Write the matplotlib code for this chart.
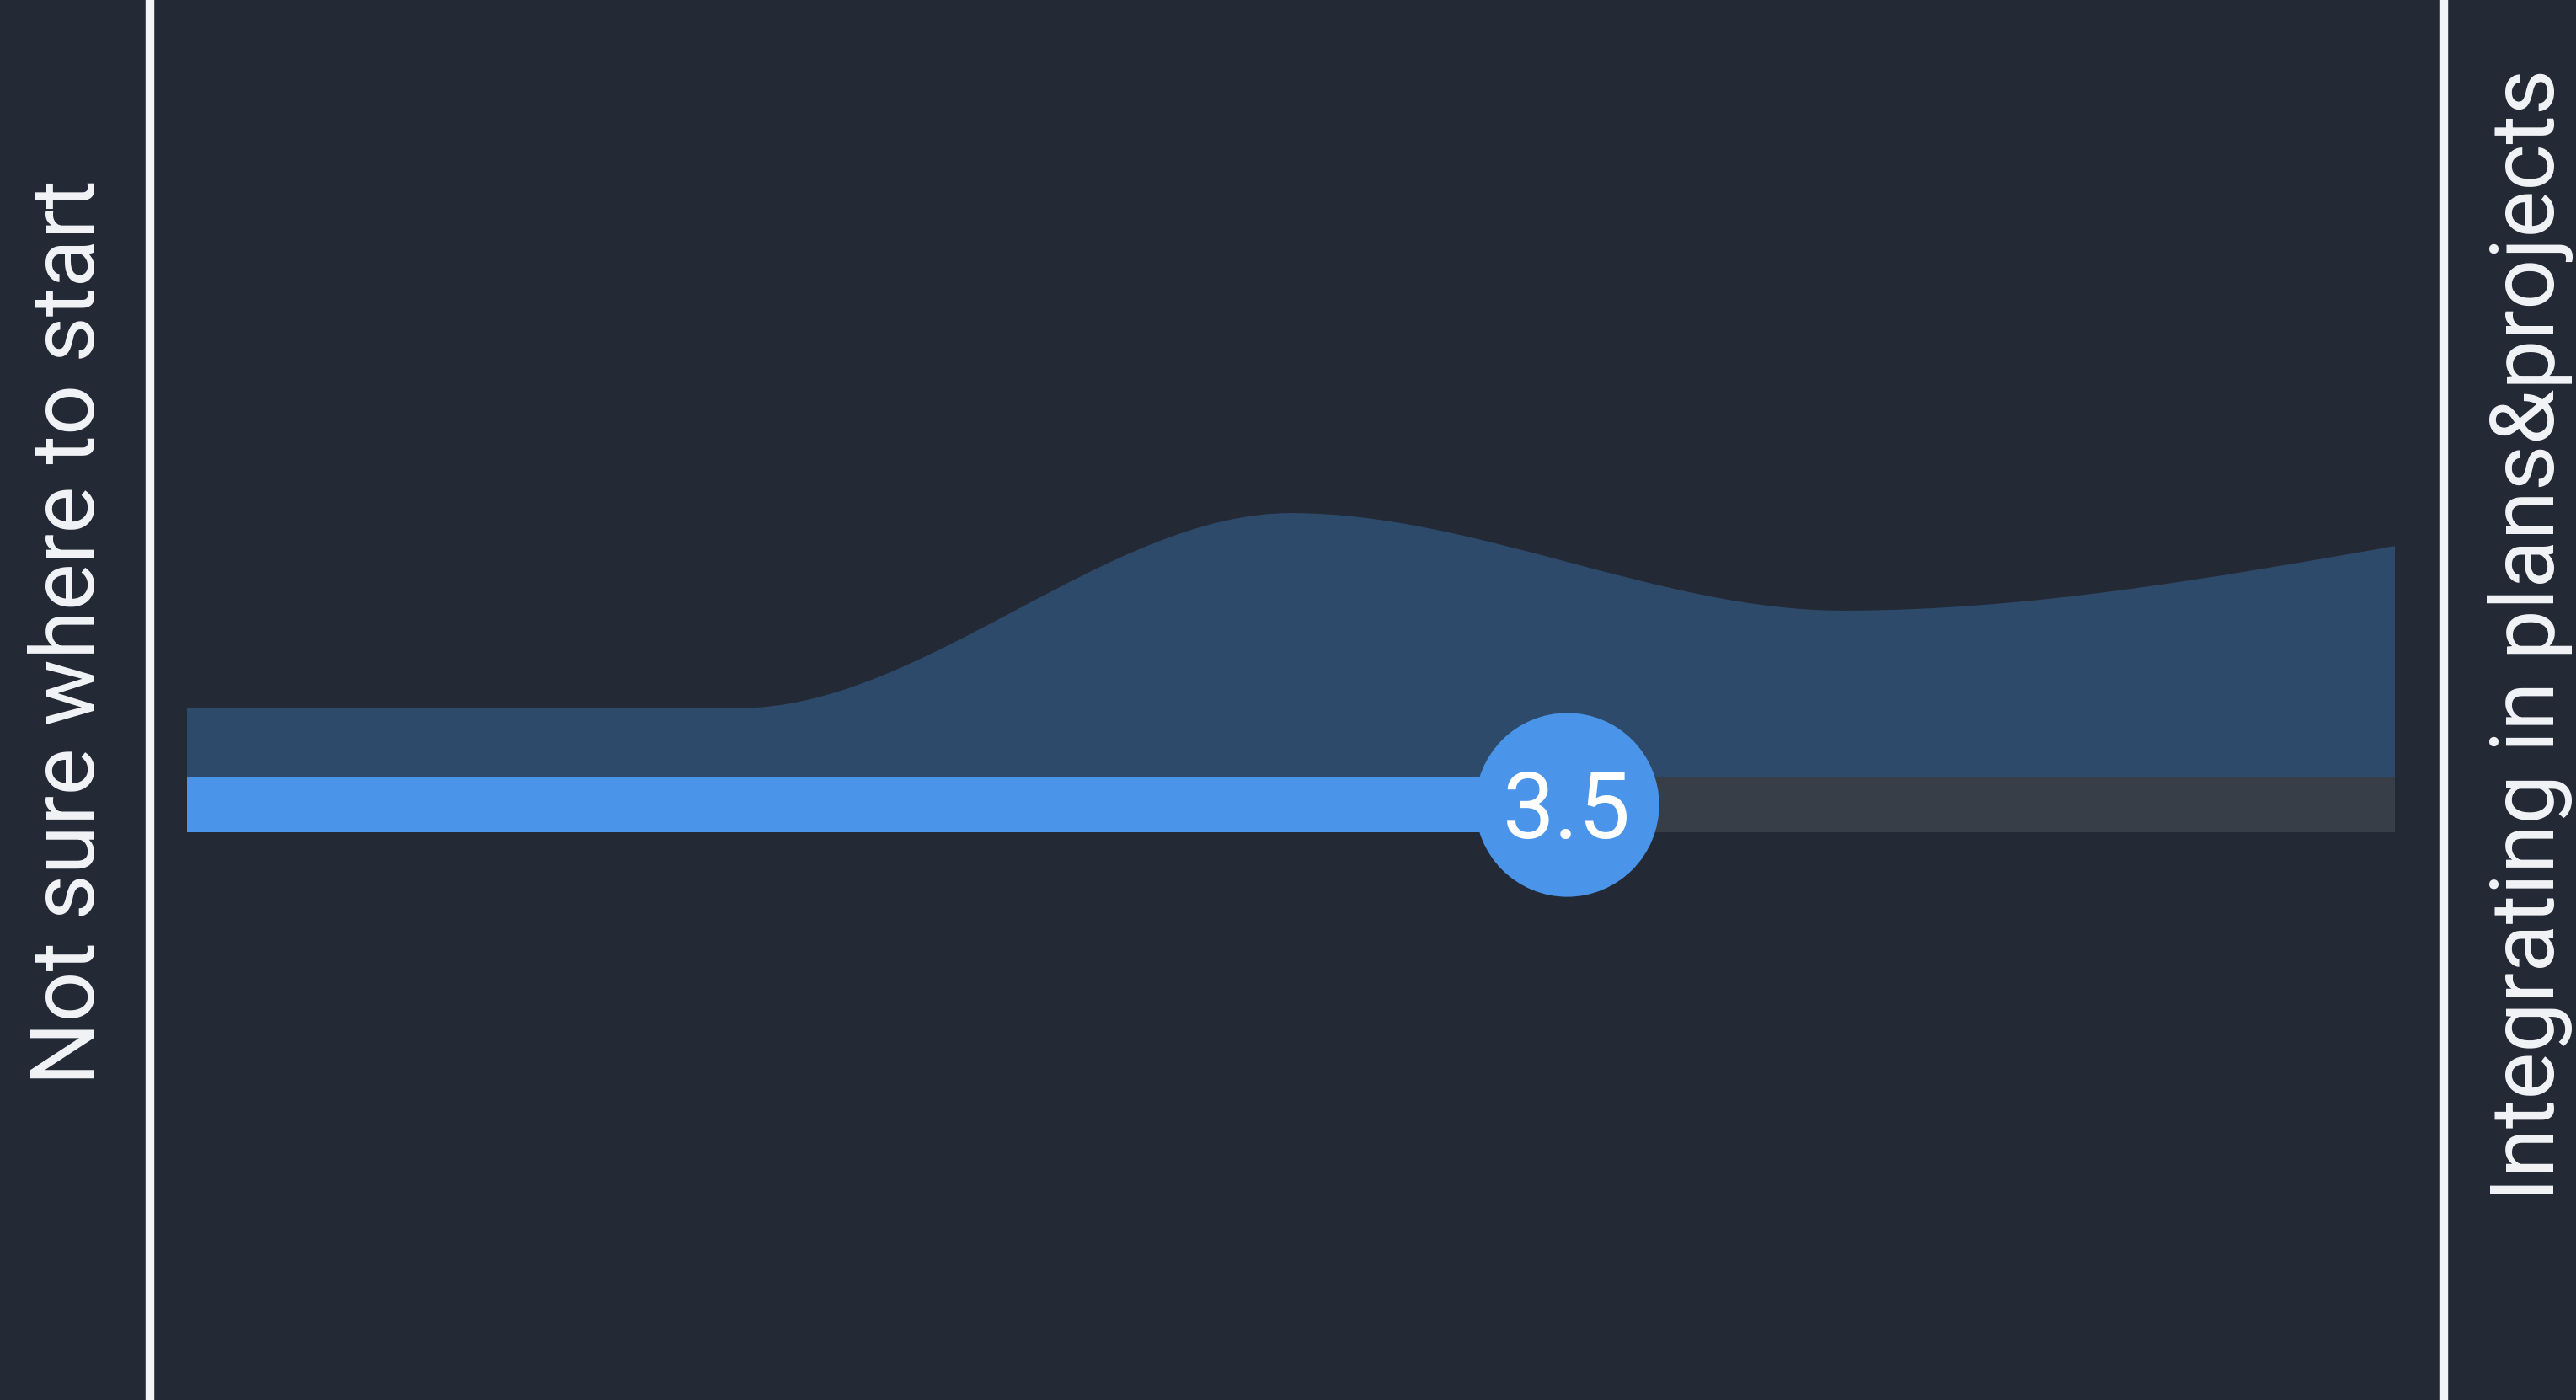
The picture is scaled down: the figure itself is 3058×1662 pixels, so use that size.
import numpy as np
import matplotlib.pyplot as plt
from matplotlib.path import Path
from matplotlib.patches import PathPatch
from matplotlib.lines import Line2D

# answer distribution on a 1..5 scale (relative share of answers)
scores = [1, 2, 3, 4, 5]
share = [0.26, 0.26, 1.0, 0.63, 0.875]
mean_score = 3.5
left_label = "Not sure where to start"
right_label = "Integrating in plans&projects"

bg = "#232a35"
area_color = "#2e4a6a"
blue = "#4a95e9"
track = "#383e48"
white = "#f2f4f7"

plt.rcParams['font.family'] = ['Roboto', 'DejaVu Sans']


def monotone_slopes(x, y):
    # same tangents as d3.curveMonotoneX
    x = np.asarray(x, float)
    y = np.asarray(y, float)
    h = np.diff(x)
    s = np.diff(y) / h
    t = np.zeros(len(x))
    for i in range(1, len(x) - 1):
        if s[i - 1] * s[i] > 0:
            p = (s[i - 1] * h[i] + s[i] * h[i - 1]) / (h[i - 1] + h[i])
            t[i] = 2 * np.sign(s[i]) * min(abs(s[i - 1]), abs(s[i]), 0.5 * abs(p))
    t[0] = (3 * s[0] - t[1]) / 2
    t[-1] = (3 * s[-1] - t[-2]) / 2
    return t


fig = plt.figure(figsize=(30.58, 16.62), dpi=100)
fig.patch.set_facecolor(bg)
ax = fig.add_axes([0, 0, 1, 1])
ax.set_facecolor(bg)
ax.axis('off')
ax.set_xlim(0.6612, 5.3281)
ax.set_ylim(-2.364, 2.946)

# smooth area of the distribution
t = monotone_slopes(scores, share)
verts = [(scores[0], 0), (scores[0], share[0])]
codes = [Path.MOVETO, Path.LINETO]
for i in range(len(scores) - 1):
    x0, x1 = scores[i], scores[i + 1]
    y0, y1 = share[i], share[i + 1]
    dx = (x1 - x0) / 3
    verts += [(x0 + dx, y0 + dx * t[i]), (x1 - dx, y1 - dx * t[i + 1]), (x1, y1)]
    codes += [Path.CURVE4] * 3
verts += [(scores[-1], 0), (scores[0], 0)]
codes += [Path.LINETO, Path.CLOSEPOLY]
ax.add_patch(PathPatch(Path(verts, codes), facecolor=area_color, edgecolor='none'))

# slider track
bar_h = 0.211
bar_y = -bar_h / 2
ax.barh(bar_y, scores[-1] - mean_score, left=mean_score, height=bar_h, color=track)
ax.barh(bar_y, mean_score - scores[0], left=scores[0], height=bar_h, color=blue)

# knob with the mean
ax.scatter([mean_score], [bar_y], s=24700, color=blue, zorder=5, linewidths=0)
ax.annotate(f"{mean_score:.1f}", (mean_score, bar_y), xytext=(0, -28.5),
            textcoords='offset points', ha='center', va='baseline',
            fontsize=79, color='white', zorder=6)

# side rules
for xf in (178 / 3058, 2901 / 3058):
    fig.add_artist(Line2D([xf, xf], [0, 1], transform=fig.transFigure,
                          color=white, lw=7.5))

fig.text(112 / 3058, 1 - 750 / 1662, left_label, rotation=90, rotation_mode='anchor',
         ha='center', va='baseline', fontsize=76, color=white)
fig.text(3032 / 3058, 1 - 754 / 1662, right_label, rotation=90, rotation_mode='anchor',
         ha='center', va='baseline', fontsize=76, color=white)

fig.savefig("out.png", dpi=100, facecolor=bg)
